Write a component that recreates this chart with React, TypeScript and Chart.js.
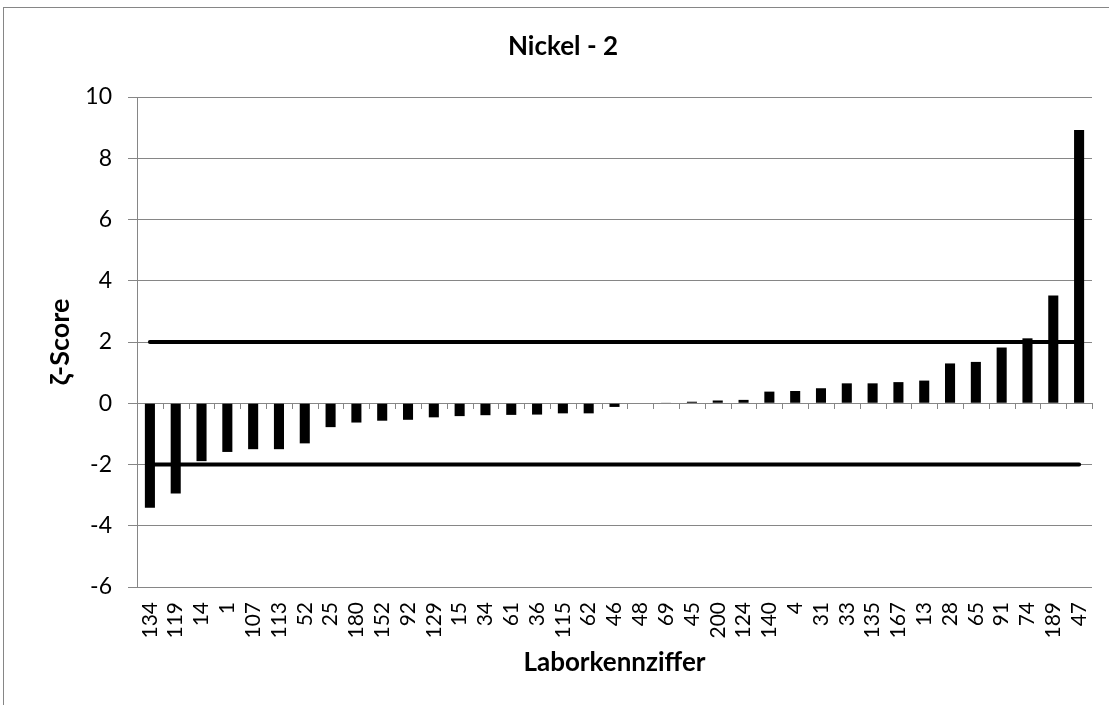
import React, { useEffect, useRef } from "react";
import { Chart, registerables } from "chart.js";

Chart.register(...registerables);

const chartTitle = "Nickel - 2";
const xTitle = "Laborkennziffer";
const yTitle = "ζ-Score";

const labCodes = ["134", "119", "14", "1", "107", "113", "52", "25", "180", "152", "92", "129", "15", "34", "61", "36", "115", "62", "46", "48", "69", "45", "200", "124", "140", "4", "31", "33", "135", "167", "13", "28", "65", "91", "74", "189", "47"];
const zetaScores = [-3.41, -2.95, -1.89, -1.59, -1.5, -1.5, -1.31, -0.78, -0.63, -0.57, -0.54, -0.46, -0.42, -0.39, -0.38, -0.37, -0.33, -0.33, -0.12, 0.0, 0.02, 0.05, 0.09, 0.11, 0.38, 0.4, 0.49, 0.65, 0.65, 0.69, 0.74, 1.3, 1.35, 1.82, 2.12, 3.52, 8.92];
const upperLimit = 2;
const lowerLimit = -2;
const yMin = -6;
const yMax = 10;
const yStep = 2;

const FONT = "Lato, 'Open Sans', sans-serif";
const GRID = "#868686";

export default function App() {
  const ref = useRef<HTMLCanvasElement | null>(null);

  useEffect(() => {
    if (!ref.current) return;
    const first = labCodes[0];
    const last = labCodes[labCodes.length - 1];

    const titlePlugin = {
      id: "excelTitle",
      afterDraw(chart: any) {
        const ctx = chart.ctx;
        ctx.save();
        ctx.fillStyle = "#000";
        ctx.font = `bold 26px ${FONT}`;
        ctx.textAlign = "center";
        ctx.textBaseline = "middle";
        ctx.fillText(chartTitle, 563, 47);
        ctx.restore();
      },
    };

    const zeroTicks = {
      id: "zeroTicks",
      afterDatasetsDraw(chart: any) {
        const xs = chart.scales.x;
        const ys = chart.scales.y;
        const y0 = Math.round(ys.getPixelForValue(0));
        const n = labCodes.length;
        const ctx = chart.ctx;
        ctx.save();
        ctx.strokeStyle = GRID;
        ctx.lineWidth = 1;
        ctx.beginPath();
        for (let i = 0; i <= n; i++) {
          const x = Math.round(xs.left + (i * (xs.right - xs.left)) / n) + 0.5;
          ctx.moveTo(x, y0);
          ctx.lineTo(x, y0 + 6);
        }
        ctx.stroke();
        ctx.restore();
      },
    };

    const chart = new Chart(ref.current, {
      type: "bar",
      data: {
        labels: labCodes,
        datasets: [
          {
            type: "line",
            data: [{ x: first, y: upperLimit }, { x: last, y: upperLimit }] as any,
            borderColor: "#000",
            borderWidth: 4,
            borderCapStyle: "round",
            pointRadius: 0,
            fill: false,
            order: 0,
          },
          {
            type: "line",
            data: [{ x: first, y: lowerLimit }, { x: last, y: lowerLimit }] as any,
            borderColor: "#000",
            borderWidth: 4,
            borderCapStyle: "round",
            pointRadius: 0,
            fill: false,
            order: 0,
          },
          {
            type: "bar",
            data: zetaScores,
            backgroundColor: "#000",
            borderWidth: 0,
            categoryPercentage: 1,
            barPercentage: 0.39,
            order: 1,
          },
        ] as any,
      },
      options: {
        responsive: false,
        animation: false,
        devicePixelRatio: 1,
        layout: { padding: { top: 97, left: 0, right: 17, bottom: 0 } },
        plugins: {
          legend: { display: false },
          title: { display: false },
          tooltip: { enabled: false },
        },
        scales: {
          x: {
            type: "category",
            offset: true,
            grid: { display: false, drawTicks: false },
            border: { display: false },
            ticks: {
              autoSkip: false,
              maxRotation: 90,
              minRotation: 90,
              padding: 15,
              color: "#000",
              font: { family: FONT, size: 21 },
            },
            title: {
              display: true,
              text: xTitle,
              color: "#000",
              font: { family: FONT, size: 26, weight: "bold" },
              padding: { top: 0, bottom: 27 },
            },
            afterFit(scale: any) {
              scale.height = 118;
              scale.paddingLeft = 0;
              scale.paddingRight = 0;
            },
          },
          y: {
            min: yMin,
            max: yMax,
            grid: { color: GRID, lineWidth: 1, tickLength: 9, drawTicks: true },
            border: { display: true, color: GRID, width: 1 },
            ticks: {
              stepSize: yStep,
              padding: 16,
              color: "#000",
              font: { family: FONT, size: 23 },
            },
            title: {
              display: true,
              text: yTitle,
              color: "#000",
              font: { family: FONT, size: 27, weight: "bold" },
              padding: { top: 44, bottom: 0 },
            },
            afterFit(scale: any) {
              scale.width = 137;
            },
          },
        },
      },
      plugins: [titlePlugin, zeroTicks],
    });
    return () => chart.destroy();
  }, []);

  return (
    <div style={{ position: "absolute", left: 0, top: 0, width: 1109, height: 705, background: "#fff", overflow: "hidden" }}>
      <div style={{ position: "absolute", left: 3, top: 7, width: 1200, height: 800, borderLeft: `1px solid ${GRID}`, borderTop: `1px solid ${GRID}` }} />
      <canvas ref={ref} width={1109} height={705} style={{ position: "absolute", left: 0, top: 0 }} />
    </div>
  );
}
